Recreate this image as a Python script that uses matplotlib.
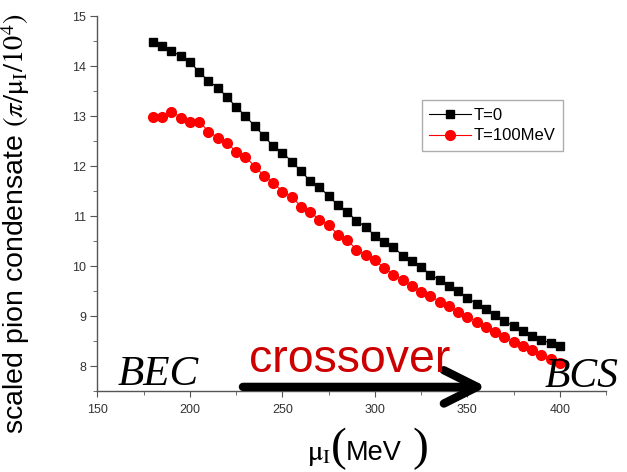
import matplotlib
matplotlib.use("Agg")
import matplotlib.pyplot as plt
from matplotlib.ticker import MultipleLocator

# isospin chemical potential [MeV]
mu_I = [180, 185, 190, 195, 200, 205, 210, 215, 220, 225, 230, 235, 240, 245, 250,
        255, 260, 265, 270, 275, 280, 285, 290, 295, 300, 305, 310, 315, 320, 325,
        330, 335, 340, 345, 350, 355, 360, 365, 370, 375, 380, 385, 390, 395, 400]

# scaled pion condensate, T = 0
cond_T0 = [14.48, 14.40, 14.30, 14.20, 14.08, 13.88, 13.70, 13.57, 13.38, 13.18,
           13.00, 12.80, 12.60, 12.40, 12.27, 12.09, 11.90, 11.70, 11.58, 11.40,
           11.22, 11.09, 10.90, 10.79, 10.60, 10.49, 10.38, 10.21, 10.10, 9.98,
           9.83, 9.72, 9.61, 9.50, 9.36, 9.25, 9.14, 9.03, 8.90, 8.80,
           8.70, 8.61, 8.52, 8.46, 8.40]

# scaled pion condensate, T = 100 MeV
cond_T100 = [12.98, 12.98, 13.09, 12.97, 12.88, 12.89, 12.69, 12.57, 12.47, 12.28,
             12.19, 11.99, 11.81, 11.67, 11.49, 11.39, 11.19, 11.09, 10.92, 10.82,
             10.63, 10.52, 10.33, 10.22, 10.12, 9.96, 9.83, 9.72, 9.60, 9.49,
             9.40, 9.29, 9.21, 9.09, 8.99, 8.89, 8.79, 8.69, 8.59, 8.49,
             8.40, 8.32, 8.22, 8.15, 8.06]

plt.rcParams["font.family"] = ["Liberation Sans", "DejaVu Sans"]
plt.rcParams["mathtext.fontset"] = "stix"

W, H = 627, 472
fig = plt.figure(figsize=(W / 100, H / 100), dpi=100)
ax = fig.add_axes([0.1555, 0.1716, 0.811, 0.7945])

ax.plot(mu_I, cond_T0, color="black", lw=0.8, marker="s", ms=6,
        mec="black", mfc="black", label="T=0", zorder=3)
ax.plot(mu_I, cond_T100, color="red", lw=0.8, marker="o", ms=7,
        mec="red", mfc="red", label="T=100MeV", zorder=3)

ax.set_xlim(150, 425)
ax.set_ylim(7.5, 15)
ax.xaxis.set_major_locator(MultipleLocator(50))
ax.xaxis.set_minor_locator(MultipleLocator(25))
ax.yaxis.set_major_locator(MultipleLocator(1))
ax.yaxis.set_minor_locator(MultipleLocator(0.5))

for s in ("top", "right"):
    ax.spines[s].set_visible(False)
for s in ("left", "bottom"):
    ax.spines[s].set_color("#555555")
    ax.spines[s].set_linewidth(1.0)
ax.tick_params(which="both", direction="out", colors="#555555", labelcolor="#333333",
               labelsize=9)
ax.tick_params(axis="y", which="major", length=5, pad=3)
ax.tick_params(axis="y", which="minor", length=3)
ax.tick_params(axis="x", which="major", length=4, pad=5)
ax.tick_params(axis="x", which="minor", length=3)

ax.set_ylabel(r"scaled pion condensate $(\pi/\mathrm{\mu}_{\rm I}/10^4)$", fontsize=20.5)
ax.yaxis.set_label_coords(-0.129, 0.447)

# x label pieces: mu_I, tall thin parens, MeV
base = 1 - 460 / H
fig.text(307 / W, base, r"$\mathrm{\mu}_{\rm I}$", fontsize=21, va="baseline")
fig.text(331 / W, base, "(", family="Liberation Serif", fontsize=34, va="baseline")
fig.text(346 / W, base, "MeV", fontsize=19.5, va="baseline")
fig.text(428 / W, base, ")", family="Liberation Serif", fontsize=34, va="baseline",
         ha="right")

leg = ax.legend(loc="upper left", bbox_to_anchor=(0.638, 0.776), fontsize=12,
                frameon=True, fancybox=False, edgecolor="#999999",
                handlelength=2.5, handletextpad=0.15, borderpad=0.45,
                labelspacing=0.35, borderaxespad=0)
leg.get_frame().set_linewidth(1.0)

# regime annotations
fig.text(118 / W, 1 - 385 / H, "BEC", family="Liberation Serif", style="italic",
         fontsize=31, va="baseline")
fig.text(249 / W, 1 - 372 / H, "crossover", color="#cc0000", fontsize=33.5,
         va="baseline")
fig.text(545 / W, 1 - 387 / H, "BCS", family="Liberation Serif", style="italic",
         fontsize=30, va="baseline")
ax.annotate("", xy=(0.765, 0.011), xytext=(0.286, 0.011),
            xycoords="axes fraction", textcoords="axes fraction",
            arrowprops=dict(arrowstyle="->,head_length=1.2,head_width=0.6",
                            lw=6, color="black", mutation_scale=20,
                            shrinkA=0, shrinkB=0, clip_on=False),
            annotation_clip=False)

fig.savefig("out.png", dpi=100)
